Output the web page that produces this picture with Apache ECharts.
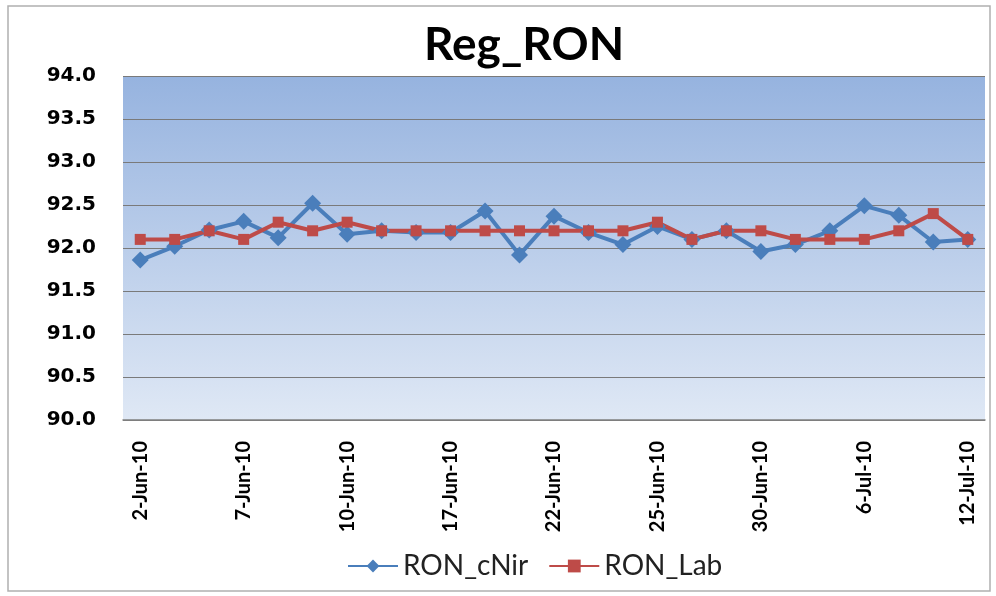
<!DOCTYPE html>
<html>
<head>
<meta charset="utf-8">
<script src="https://cdn.jsdelivr.net/npm/echarts@6/dist/echarts.min.js"></script>
<style>
  html, body { margin: 0; padding: 0; background: #fff; }
  #main { width: 996px; height: 596px; }
</style>
</head>
<body>
<div id="main"></div>
<script>
  // data
  var dates = ['2-Jun-10', '3-Jun-10', '4-Jun-10', '7-Jun-10', '8-Jun-10', '9-Jun-10', '10-Jun-10',
    '14-Jun-10', '16-Jun-10', '17-Jun-10', '18-Jun-10', '21-Jun-10', '22-Jun-10', '23-Jun-10',
    '24-Jun-10', '25-Jun-10', '28-Jun-10', '29-Jun-10', '30-Jun-10', '1-Jul-10', '5-Jul-10',
    '6-Jul-10', '7-Jul-10', '9-Jul-10', '12-Jul-10']
  var ronCNir = [91.86, 92.02, 92.21, 92.31, 92.12, 92.52, 92.16, 92.20, 92.18, 92.18, 92.43, 91.92, 92.37,
    92.18, 92.04, 92.25, 92.10, 92.20, 91.96, 92.04, 92.20, 92.49, 92.38, 92.07, 92.10]
  var ronLab = [92.1, 92.1, 92.2, 92.1, 92.3, 92.2, 92.3, 92.2, 92.2, 92.2, 92.2, 92.2, 92.2,
    92.2, 92.2, 92.3, 92.1, 92.2, 92.2, 92.1, 92.1, 92.1, 92.2, 92.4, 92.1]
  var yMin = 90, yMax = 94, yStep = 0.5

  var font = 'Lato, "Open Sans", sans-serif'
  var myChart = echarts.init(document.getElementById('main'))
  var option = {
    animation: false,
    backgroundColor: '#fff',
    textStyle: { fontFamily: font },
    graphic: [{
      type: 'rect',
      shape: { x: 8, y: 6, width: 982, height: 585 },
      style: { fill: 'none', stroke: '#b0b0b0', lineWidth: 1.5 },
      silent: true
    }],
    title: {
      text: 'Reg_RON',
      left: 419,
      top: 17,
      textStyle: { fontSize: 46, fontWeight: 'bold', color: '#000', fontFamily: font }
    },
    legend: {
      left: 342,
      top: 547,
      itemWidth: 50,
      itemHeight: 16,
      itemGap: 20,
      textStyle: { fontSize: 28, color: '#222', fontFamily: font },
      data: ['RON_cNir', 'RON_Lab']
    },
    grid: {
      left: 123,
      right: 11,
      top: 76,
      bottom: 176,
      show: true,
      borderWidth: 0,
      backgroundColor: new echarts.graphic.LinearGradient(0, 0, 0, 1, [
        { offset: 0, color: '#96b3df' },
        { offset: 1, color: '#dfe8f5' }
      ])
    },
    xAxis: {
      type: 'category',
      data: dates,
      boundaryGap: true,
      axisLine: { lineStyle: { color: '#808080', width: 1.5 } },
      axisTick: { show: false },
      axisLabel: {
        interval: 2,
        rotate: 90,
        margin: 21,
        fontSize: 20,
        fontWeight: 'bold',
        color: '#000',
        fontFamily: font
      }
    },
    yAxis: {
      type: 'value',
      min: yMin,
      max: yMax,
      interval: yStep,
      axisLine: { show: false },
      axisTick: { show: false },
      splitLine: { lineStyle: { color: '#7a7a7a', width: 1.2 } },
      axisLabel: {
        margin: 27,
        fontSize: 20,
        fontWeight: 'bold',
        color: '#000',
        fontFamily: '"DejaVu Sans", sans-serif',
        formatter: function (v) { return v.toFixed(1) }
      }
    },
    series: [
      {
        name: 'RON_cNir',
        type: 'line',
        data: ronCNir,
        symbol: 'diamond',
        symbolSize: 17,
        itemStyle: { color: '#4a7ebb' },
        lineStyle: { color: '#4a7ebb', width: 4 }
      },
      {
        name: 'RON_Lab',
        type: 'line',
        data: ronLab,
        symbol: 'rect',
        symbolSize: 11,
        itemStyle: { color: '#be4b48' },
        lineStyle: { color: '#be4b48', width: 4 }
      }
    ]
  }
  option && myChart.setOption(option)
</script>
</body>
</html>
